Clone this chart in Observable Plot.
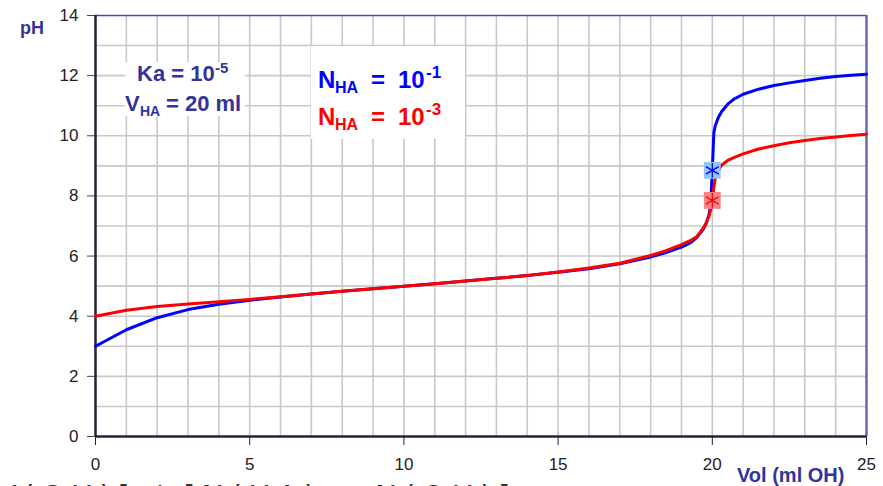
<!DOCTYPE html>
<html>
<head>
<meta charset="utf-8">
<script src="https://cdn.jsdelivr.net/npm/d3@7"></script>
<script src="https://cdn.jsdelivr.net/npm/@observablehq/plot@0.6"></script>
<style>
  html, body { margin: 0; padding: 0; background: #fff; overflow: hidden; }
  #chart { width: 883px; height: 486px; }
</style>
</head>
<body>
<div id="chart"></div>
<script>
// Titration of a weak acid HA (Ka = 1e-5, 20 ml) by OH-, two acid concentrations.
const volumes = [0, 1, 2, 3, 4, 5, 6, 7, 8, 9, 10, 11, 12, 13, 14, 15, 16, 17, 18, 18.5,
  19, 19.3, 19.5, 19.7, 19.8, 19.9, 19.95, 20, 20.05, 20.1, 20.2, 20.3, 20.5, 20.7,
  21, 21.5, 22, 22.5, 23, 23.5, 24, 24.5, 25];

// N_HA = 10^-1
const phConcentrated = [3.0, 3.55, 3.95, 4.22, 4.40, 4.53, 4.64, 4.74, 4.83, 4.91, 5.0,
  5.08, 5.17, 5.26, 5.35, 5.46, 5.58, 5.74, 5.97, 6.12,
  6.30, 6.45, 6.62, 6.88, 7.08, 7.40, 7.75, 8.85, 10.10, 10.35, 10.62, 10.80, 11.05, 11.22,
  11.38, 11.55, 11.67, 11.76, 11.84, 11.91, 11.97, 12.01, 12.05];

// N_HA = 10^-3
const phDilute = [4.0, 4.20, 4.32, 4.41, 4.48, 4.56, 4.65, 4.74, 4.83, 4.91, 5.0,
  5.08, 5.17, 5.26, 5.35, 5.47, 5.60, 5.76, 6.02, 6.18,
  6.38, 6.52, 6.65, 6.92, 7.10, 7.35, 7.55, 7.85, 8.30, 8.60, 8.85, 9.02, 9.18, 9.27,
  9.40, 9.56, 9.67, 9.77, 9.84, 9.91, 9.96, 10.01, 10.05];

const equivalenceVolume = 20;
const xTicks = [0, 5, 10, 15, 20, 25];
const yTicks = [0, 2, 4, 6, 8, 10, 12, 14];
const xGrid = [1, 2, 3, 4, 5, 6, 7, 8, 9, 10, 11, 12, 13, 14, 15, 16, 17, 18, 19, 20, 21, 22, 23, 24];
const yGrid = [1, 2, 3, 4, 5, 6, 7, 8, 9, 10, 11, 12, 13];

const concRows = volumes.map((v, i) => ({v, ph: phConcentrated[i]}));
const diluteRows = volumes.map((v, i) => ({v, ph: phDilute[i]}));
const eqIndex = volumes.indexOf(equivalenceVolume);
const eqConc = [{v: equivalenceVolume, ph: phConcentrated[eqIndex]}];
const eqDilute = [{v: equivalenceVolume, ph: phDilute[eqIndex]}];

const ink = "#333399";
const font = "'Liberation Sans', Arial, sans-serif";

const plot = Plot.plot({
  width: 883,
  height: 486,
  marginLeft: 95,
  marginRight: 17,
  marginTop: 15,
  marginBottom: 50,
  style: {fontFamily: font, fontSize: "17px", color: "#222", background: "#fff"},
  x: {domain: [0, 25]},
  y: {domain: [0, 14]},
  marks: [
    Plot.gridX(xGrid, {stroke: "#c8c8c8", strokeOpacity: 1, strokeWidth: 1.6}),
    Plot.gridY(yGrid, {stroke: "#c8c8c8", strokeOpacity: 1, strokeWidth: 1.6}),
    Plot.ruleY([14], {stroke: "#4a4aa8", strokeWidth: 1.5}),
    Plot.ruleX([25], {stroke: "#6666b8", strokeWidth: 2.5}),
    Plot.axisY({ticks: yTicks, tickSize: 8, tickPadding: 9, label: null, stroke: "#444", fontSize: 17}),
    Plot.axisX({ticks: xTicks, tickSize: 9, tickPadding: 12, label: null, stroke: "#222", fontSize: 17}),
    Plot.ruleX([0], {stroke: "#22223a", strokeWidth: 2.5}),
    Plot.ruleY([0], {stroke: "#22223a", strokeWidth: 2.5}),
    Plot.line(concRows, {x: "v", y: "ph", stroke: "#0000ff", strokeWidth: 3}),
    Plot.line(diluteRows, {x: "v", y: "ph", stroke: "#ff0000", strokeWidth: 3}),
    Plot.dot(eqDilute, {x: "v", y: "ph", symbol: "square", r: 9.5, fill: "#f78585"}),
    Plot.dot(eqDilute, {x: "v", y: "ph", symbol: "asterisk", r: 7, stroke: "#ff0000", strokeWidth: 1.3}),
    Plot.dot(eqConc, {x: "v", y: "ph", symbol: "square", r: 9.5, fill: "#92c6f6"}),
    Plot.dot(eqConc, {x: "v", y: "ph", symbol: "asterisk", r: 7, stroke: "#0000ff", strokeWidth: 1.3})
  ]
});

document.getElementById("chart").append(plot);

// Annotations with sub/superscripts, placed in the SVG's pixel space.
const svg = d3.select(plot);
const notes = svg.append("g")
  .attr("font-family", font)
  .attr("font-weight", "bold")
  .attr("text-anchor", "start");

function addText(g, parts, fill) {
  parts.forEach(([txt, x, y, size]) => {
    g.append("text").attr("x", x).attr("y", y).attr("font-size", size)
      .attr("fill", fill).text(txt);
  });
}

// Constants box
notes.append("rect").attr("x", 125).attr("y", 62).attr("width", 120).attr("height", 54).attr("fill", "#fff");
addText(notes, [
  ["Ka = 10", 137, 81, 22],
  ["-5", 215, 73, 15],
  ["V", 125, 111, 22],
  ["HA", 140, 116, 14],
  ["= 20 ml", 166, 111, 22]
], ink);

// Concentration legend box
notes.append("rect").attr("x", 311).attr("y", 46).attr("width", 154).attr("height", 93).attr("fill", "#fff");
function concLabel(exp, dy, fill) {
  addText(notes, [
    ["N", 318, 88 + dy, 24],
    ["HA", 335, 93 + dy, 16],
    ["=", 371, 88 + dy, 24],
    ["10", 398, 88 + dy, 24],
    [exp, 426, 78 + dy, 17]
  ], fill);
}
concLabel("-1", 0, "#0000ff");
concLabel("-3", 37, "#ff0000");

// Axis titles
addText(notes, [["pH", 20, 34, 18]], ink);
addText(notes, [["Vol (ml OH)", 737, 482, 20]], ink);

// Formula running off the bottom edge
svg.append("text").attr("x", -4).attr("y", 507)
  .attr("text-anchor", "start")
  .attr("font-family", "'DejaVu Sans', Verdana, sans-serif").attr("font-size", 30)
  .attr("fill", "#333").attr("textLength", 514).attr("lengthAdjust", "spacing")
  .text("V(OH)] / [N(HA) – N(OH)]");
</script>
</body>
</html>
